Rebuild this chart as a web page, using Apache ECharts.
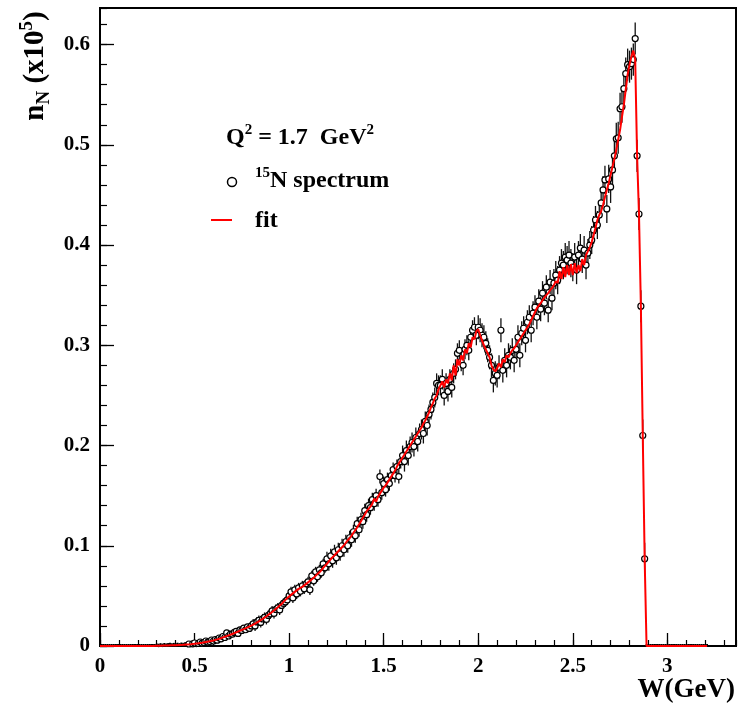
<!DOCTYPE html>
<html>
<head>
<meta charset="utf-8">
<script src="https://cdn.jsdelivr.net/npm/echarts@6/dist/echarts.min.js"></script>
<style>
  html, body { margin: 0; padding: 0; background: #fff; }
  #chart { width: 738px; height: 711px; }
</style>
</head>
<body>
<div id="chart"></div>
<script>
// histogram binning in W (GeV): bin i sits at binStart + i * binWidth
const binStart = 0.0
const binWidth = 0.01

// 15N spectrum, n_N (x10^5), one value per bin from W = 0.00 to 3.21
const spectrum = [
  0, 0, 0, 0, 0, 0, 0, 0, 0, 0,
  0, 0, 0, 0, 0, 0, 0, 0, 0, 0,
  0, 0, 0, 0, 0, 0, 0, 0, 0, 0,
  0.0005, 0.0003, 0.0008, 0.0004, 0.0010, 0.0006, 0.0009, 0.0012, 0.0007, 0.0011,
  0.0010, 0.0013, 0.0008, 0.0015, 0.0012, 0.0018, 0.0014, 0.0020, 0.0016, 0.0022,
  0.0030, 0.0018, 0.0025, 0.0040, 0.0028, 0.0035, 0.0050, 0.0038, 0.0045, 0.0060,
  0.0050, 0.0065, 0.0058, 0.0080, 0.0072, 0.0095, 0.0085, 0.0130, 0.0100, 0.0118,
  0.0118, 0.0135, 0.0145, 0.0125, 0.0160, 0.0155, 0.0178, 0.0162, 0.0190, 0.0175,
  0.0200, 0.0220, 0.0200, 0.0240, 0.0255, 0.0235, 0.0270, 0.0285, 0.0265, 0.0305,
  0.0320, 0.0350, 0.0325, 0.0365, 0.0380, 0.0360, 0.0405, 0.0425, 0.0440, 0.0460,
  0.0500, 0.0540, 0.0480, 0.0560, 0.0520, 0.0580, 0.0545, 0.0600, 0.0570, 0.0620,
  0.0640, 0.0560, 0.0700, 0.0650, 0.0740, 0.0690, 0.0760, 0.0730, 0.0820, 0.0780,
  0.0870, 0.0820, 0.0900, 0.0850, 0.0940, 0.0880, 0.0960, 0.0920, 0.1000, 0.0960,
  0.1040, 0.1000, 0.1080, 0.1060, 0.1140, 0.1100, 0.1220, 0.1160, 0.1260, 0.1240,
  0.1350, 0.1310, 0.1400, 0.1380, 0.1460, 0.1420, 0.1500, 0.1460, 0.1690, 0.1530,
  0.1620, 0.1560, 0.1660, 0.1620, 0.1700, 0.1760, 0.1700, 0.1790, 0.1690, 0.1840,
  0.1900, 0.1840, 0.1950, 0.1900, 0.1990, 0.2030, 0.1990, 0.2080, 0.2040, 0.2120,
  0.2160, 0.2120, 0.2240, 0.2200, 0.2310, 0.2360, 0.2430, 0.2480, 0.2620, 0.2600,
  0.2600, 0.2660, 0.2500, 0.2620, 0.2540, 0.2660, 0.2580, 0.2720, 0.2760, 0.2920,
  0.2950, 0.2840, 0.2800, 0.2960, 0.3000, 0.2950, 0.3080, 0.3150, 0.3180, 0.3100,
  0.3180, 0.3150, 0.3100, 0.3080, 0.3020, 0.2950, 0.2880, 0.2800, 0.2650, 0.2720,
  0.2700, 0.2780, 0.3150, 0.2750, 0.2850, 0.2800, 0.2900, 0.2880, 0.2950, 0.2850,
  0.2960, 0.3080, 0.2900, 0.3120, 0.3170, 0.3050, 0.3230, 0.3280, 0.3150, 0.3320,
  0.3380, 0.3280, 0.3440, 0.3360, 0.3520, 0.3420, 0.3580, 0.3350, 0.3630, 0.3470,
  0.3620, 0.3700, 0.3650, 0.3750, 0.3820, 0.3800, 0.3880, 0.3850, 0.3900, 0.3820,
  0.3780, 0.3880, 0.3750, 0.3900, 0.3970, 0.3860, 0.3950, 0.3800, 0.3920, 0.4000,
  0.4050, 0.4150, 0.4250, 0.4200, 0.4300, 0.4420, 0.4550, 0.4650, 0.4360, 0.4660,
  0.4580, 0.4750, 0.4890, 0.5060, 0.5070, 0.5360, 0.5380, 0.5560, 0.5710, 0.5800,
  0.5780, 0.5810, 0.5850, 0.6060, 0.4890, 0.4310, 0.3390, 0.2100, 0.0870, 0,
  0, 0, 0, 0, 0, 0, 0, 0, 0, 0,
  0, 0, 0, 0, 0, 0, 0, 0, 0, 0,
  0, 0, 0, 0, 0, 0, 0, 0, 0, 0,
  0, 0
]

// fit, same bins
const fitValues = [
  0, 0, 0, 0, 0, 0, 0, 0, 0, 0,
  0, 0, 0, 0, 0, 0, 0, 0, 0, 0,
  0, 0, 0, 0, 0, 0, 0, 0, 0, 0,
  0.0002, 0.0002, 0.0003, 0.0003, 0.0004, 0.0004, 0.0005, 0.0006, 0.0007, 0.0007,
  0.0008, 0.0009, 0.0010, 0.0011, 0.0012, 0.0013, 0.0015, 0.0016, 0.0018, 0.0020,
  0.0022, 0.0025, 0.0027, 0.0030, 0.0033, 0.0036, 0.0040, 0.0043, 0.0047, 0.0051,
  0.0055, 0.0060, 0.0066, 0.0072, 0.0078, 0.0085, 0.0092, 0.0099, 0.0106, 0.0113,
  0.0120, 0.0128, 0.0136, 0.0144, 0.0152, 0.0160, 0.0168, 0.0176, 0.0185, 0.0194,
  0.0203, 0.0213, 0.0223, 0.0234, 0.0246, 0.0258, 0.0270, 0.0283, 0.0297, 0.0311,
  0.0325, 0.0340, 0.0355, 0.0370, 0.0386, 0.0402, 0.0418, 0.0440, 0.0455, 0.0478,
  0.0495, 0.0510, 0.0525, 0.0540, 0.0555, 0.0570, 0.0560, 0.0590, 0.0605, 0.0620,
  0.0635, 0.0650, 0.0665, 0.0680, 0.0700, 0.0715, 0.0735, 0.0755, 0.0780, 0.0800,
  0.0820, 0.0845, 0.0865, 0.0885, 0.0905, 0.0925, 0.0945, 0.0965, 0.0985, 0.1005,
  0.1030, 0.1055, 0.1075, 0.1100, 0.1130, 0.1155, 0.1185, 0.1215, 0.1245, 0.1280,
  0.1310, 0.1345, 0.1330, 0.1390, 0.1420, 0.1470, 0.1440, 0.1490, 0.1520, 0.1550,
  0.1580, 0.1600, 0.1630, 0.1660, 0.1690, 0.1720, 0.1750, 0.1790, 0.1820, 0.1850,
  0.1880, 0.1910, 0.1940, 0.1970, 0.2000, 0.2030, 0.2060, 0.2090, 0.2120, 0.2150,
  0.2180, 0.2220, 0.2250, 0.2290, 0.2330, 0.2380, 0.2420, 0.2470, 0.2500, 0.2560,
  0.2600, 0.2640, 0.2580, 0.2660, 0.2620, 0.2720, 0.2650, 0.2800, 0.2700, 0.2860,
  0.2800, 0.2900, 0.2850, 0.2960, 0.2920, 0.3020, 0.2980, 0.3080, 0.3060, 0.3140,
  0.3160, 0.3100, 0.3050, 0.3000, 0.2960, 0.2920, 0.2880, 0.2800, 0.2760, 0.2740,
  0.2770, 0.2820, 0.2780, 0.2860, 0.2830, 0.2900, 0.2880, 0.2920, 0.2950, 0.2970,
  0.3000, 0.3030, 0.3060, 0.3090, 0.3120, 0.3150, 0.3180, 0.3210, 0.3250, 0.3290,
  0.3330, 0.3370, 0.3360, 0.3420, 0.3450, 0.3440, 0.3500, 0.3520, 0.3550, 0.3570,
  0.3600, 0.3640, 0.3620, 0.3740, 0.3660, 0.3780, 0.3680, 0.3800, 0.3700, 0.3810,
  0.3700, 0.3820, 0.3720, 0.3800, 0.3740, 0.3860, 0.3800, 0.3900, 0.3940, 0.3980,
  0.4030, 0.4100, 0.4170, 0.4250, 0.4300, 0.4340, 0.4400, 0.4480, 0.4550, 0.4620,
  0.4700, 0.4780, 0.4860, 0.4950, 0.5050, 0.5150, 0.5280, 0.5400, 0.5550, 0.5700,
  0.5800, 0.5880, 0.5940, 0.5850, 0.4890, 0.4310, 0.3390, 0.2100, 0.0870, 0,
  0, 0, 0, 0, 0, 0, 0, 0, 0, 0,
  0, 0, 0, 0, 0, 0, 0, 0, 0, 0,
  0, 0, 0, 0, 0, 0, 0, 0, 0, 0,
  0, 0
]

// error bar half-size by W range (upper edges)
const errEdges = [0.5, 0.8, 1.2, 1.6, 2.0, 2.4, 2.7, 3.3]
const errSizes = [0.0015, 0.003, 0.005, 0.007, 0.010, 0.012, 0.014, 0.016]

const xTickLabels = ['0', '0.5', '1', '1.5', '2', '2.5', '3']
const yTickLabels = ['0', '0.1', '0.2', '0.3', '0.4', '0.5', '0.6']

const font = 'Liberation Serif'

const errorFor = (w, v) => {
  if (v === 0) return 0
  const k = errEdges.findIndex((e) => w < e)
  return errSizes[k < 0 ? errSizes.length - 1 : k]
}

const points = spectrum.map((v, i) => {
  const w = +(binStart + i * binWidth).toFixed(3)
  return [w, v, errorFor(w, v)]
})
const fitLine = fitValues.map((v, i) => [+(binStart + i * binWidth).toFixed(3), v])

const labelStyle = {
  fontFamily: font,
  fontWeight: 'bold',
  fontSize: 21,
  color: '#000',
}

const xBase = { type: 'value', min: 0, max: 3.363, splitLine: { show: false } }
const yBase = { type: 'value', min: 0, max: 0.6365, splitLine: { show: false } }

const chart = echarts.init(document.getElementById('chart'))

chart.setOption({
  animation: false,
  backgroundColor: '#fff',
  grid: {
    left: 100,
    top: 8,
    width: 636,
    height: 638,
    show: true,
    borderColor: '#000',
    borderWidth: 2,
    backgroundColor: 'transparent',
  },
  xAxis: [
    {
      ...xBase,
      interval: 0.5,
      axisLine: { show: true, lineStyle: { color: '#000', width: 2 } },
      axisTick: { inside: true, length: 13, lineStyle: { color: '#000', width: 1.3 } },
      axisLabel: {
        ...labelStyle,
        margin: 10,
        showMaxLabel: false,
        formatter: (v) => xTickLabels[Math.round(v / 0.5)] ?? '',
      },
    },
    {
      ...xBase,
      position: 'bottom',
      interval: 0.1,
      axisLine: { show: false },
      axisTick: { inside: true, length: 6, lineStyle: { color: '#000', width: 1.2 } },
      axisLabel: { show: false },
    },
  ],
  yAxis: [
    {
      ...yBase,
      interval: 0.1,
      axisLine: { show: true, lineStyle: { color: '#000', width: 2 } },
      axisTick: { inside: true, length: 14, lineStyle: { color: '#000', width: 1.3 } },
      axisLabel: {
        ...labelStyle,
        margin: 10,
        showMaxLabel: false,
        formatter: (v) => yTickLabels[Math.round(v / 0.1)] ?? '',
      },
    },
    {
      ...yBase,
      position: 'left',
      interval: 0.02,
      axisLine: { show: false },
      axisTick: { inside: true, length: 7, lineStyle: { color: '#000', width: 1.2 } },
      axisLabel: { show: false },
    },
  ],
  series: [
    {
      name: 'errors',
      type: 'custom',
      z: 2,
      data: points,
      renderItem: (params, api) => {
        const w = api.value(0)
        const v = api.value(1)
        const e = api.value(2)
        const lo = api.coord([w, v - e])
        const hi = api.coord([w, v + e])
        const l = api.coord([w - binWidth / 2, v])
        const r = api.coord([w + binWidth / 2, v])
        return {
          type: 'group',
          children: [
            {
              type: 'line',
              shape: { x1: lo[0], y1: lo[1], x2: hi[0], y2: hi[1] },
              style: { stroke: '#111', lineWidth: 1.3 },
            },
            {
              type: 'line',
              shape: { x1: l[0], y1: l[1] - 1, x2: r[0], y2: r[1] - 1 },
              style: { stroke: '#000', lineWidth: 2 },
            },
          ],
        }
      },
    },
    {
      name: '15N spectrum',
      type: 'scatter',
      z: 3,
      data: points.filter((p) => p[1] >= 0.002),
      symbol: 'circle',
      symbolSize: 6,
      itemStyle: { color: '#fff', borderColor: '#000', borderWidth: 1.2, opacity: 1 },
    },
    {
      name: 'fit',
      type: 'line',
      z: 4,
      data: fitLine,
      showSymbol: false,
      symbol: 'none',
      lineStyle: { color: '#ff0000', width: 2 },
    },
  ],
  graphic: [
    {
      type: 'text',
      x: 36,
      y: 66,
      rotation: Math.PI / 2,
      style: {
        text: '{a|n}{b|N}{a| (x10}{c|5}{a|)}',
        align: 'center',
        verticalAlign: 'middle',
        rich: {
          a: { fontFamily: font, fontWeight: 'bold', fontSize: 29, lineHeight: 36, fill: '#000' },
          b: { fontFamily: font, fontWeight: 'bold', fontSize: 19, lineHeight: 17, verticalAlign: 'bottom', fill: '#000' },
          c: { fontFamily: font, fontWeight: 'bold', fontSize: 19, lineHeight: 17, verticalAlign: 'top', fill: '#000' },
        },
      },
    },
    {
      type: 'text',
      x: 735,
      y: 690,
      style: {
        text: 'W(GeV)',
        align: 'right',
        verticalAlign: 'middle',
        fontFamily: font,
        fontWeight: 'bold',
        fontSize: 27,
        fill: '#000',
      },
    },
    {
      type: 'text',
      x: 226,
      y: 138,
      style: {
        text: '{a|Q}{c|2}{a| = 1.7  GeV}{c|2}',
        align: 'left',
        verticalAlign: 'middle',
        rich: {
          a: { fontFamily: font, fontWeight: 'bold', fontSize: 24, lineHeight: 30, fill: '#000' },
          c: { fontFamily: font, fontWeight: 'bold', fontSize: 15, lineHeight: 14, verticalAlign: 'top', fill: '#000' },
        },
      },
    },
    {
      type: 'circle',
      shape: { cx: 232, cy: 182, r: 4.5 },
      style: { fill: '#fff', stroke: '#000', lineWidth: 1.5 },
    },
    {
      type: 'text',
      x: 255,
      y: 181,
      style: {
        text: '{c|15}{a|N spectrum}',
        align: 'left',
        verticalAlign: 'middle',
        rich: {
          a: { fontFamily: font, fontWeight: 'bold', fontSize: 24, lineHeight: 30, fill: '#000' },
          c: { fontFamily: font, fontWeight: 'bold', fontSize: 15, lineHeight: 14, verticalAlign: 'top', fill: '#000' },
        },
      },
    },
    {
      type: 'line',
      shape: { x1: 211, y1: 220, x2: 232, y2: 220 },
      style: { stroke: '#ff0000', lineWidth: 2 },
    },
    {
      type: 'text',
      x: 255,
      y: 221,
      style: {
        text: 'fit',
        align: 'left',
        verticalAlign: 'middle',
        fontFamily: font,
        fontWeight: 'bold',
        fontSize: 24,
        fill: '#000',
      },
    },
  ],
})
</script>
</body>
</html>
